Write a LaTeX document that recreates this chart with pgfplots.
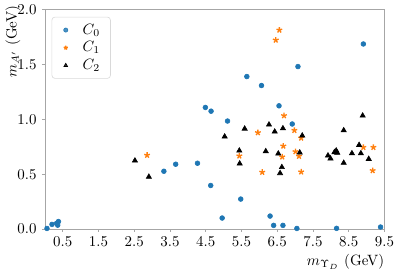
\documentclass[border=0pt]{standalone}
\usepackage{pgfplots}
\pgfplotsset{compat=1.18}
\usetikzlibrary{plotmarks}
\definecolor{mplblue}{HTML}{1F77B4}
\definecolor{mplorange}{HTML}{FF7F0E}
\begin{document}
\begin{tikzpicture}
\begin{axis}[
  name=ax,
  scale only axis,
  width=227.3pt, height=146.7pt,
  xmin=0, xmax=9.5, ymin=0, ymax=2,
  xtick={0.5,1.5,2.5,3.5,4.5,5.5,6.5,7.5,8.5,9.5},
  ytick={0,0.5,1,1.5,2},
  xticklabel style={/pgf/number format/.cd,fixed,fixed zerofill,precision=1},
  yticklabel style={/pgf/number format/.cd,fixed,fixed zerofill,precision=1},
  tick align=outside,
  major tick length=2pt,
  axis line style={gray!70},
  every tick/.style={gray!70},
  xtick pos=bottom, ytick pos=left,
  clip=false,
  xlabel={$m_{\Upsilon_D}$ (GeV)},
  ylabel={$m_{A'}$ (GeV)},
  xlabel style={at={(rel axis cs:1,0)}, anchor=north east, inner sep=0pt, yshift=-16.7pt},
  ylabel style={at={(rel axis cs:0,1)}, anchor=east, inner sep=0pt, yshift=21.3pt, xshift=3pt},
  legend style={at={(0.02,0.968)}, anchor=north west, draw=gray!30, rounded corners=2pt,
    fill=white, fill opacity=0.8, text opacity=1, font=\normalsize,
    inner xsep=5pt, inner ysep=3pt, row sep=0.5pt,
    nodes={inner ysep=1.5pt},
    /tikz/every odd column/.append style={column sep=5pt}},
  legend image code/.code={\path[draw=none,fill=none] (0cm,-0.05cm) rectangle (0.3cm,0.05cm); \draw[#1,mark size=1.4pt] plot coordinates {(0.15cm,0cm)};},
  legend cell align=left,
]
\addplot[only marks, mark=*, mark size=1.6pt, color=mplblue, mark options={draw=mplblue, fill=mplblue}] coordinates {
(0.06,0.005) (0.20,0.042) (0.33,0.052) (0.36,0.035) (0.38,0.068)
(3.33,0.527) (3.66,0.591) (4.27,0.60) (4.64,0.397) (4.49,1.109)
(4.65,1.075) (5.11,0.985) (4.96,0.10) (5.48,0.273) (5.65,1.391)
(6.06,1.309) (6.55,1.124) (6.92,0.958) (7.08,1.482) (8.91,1.688)
(6.30,0.118) (6.40,0.033) (6.66,0.033) (7.05,0.005) (8.16,0.006)
(9.39,0.018)
};
\addlegendentry{$C_0$}
\addplot[only marks, mark=star, mark size=2pt, color=mplorange, mark options={draw=mplorange, line width=0.9pt}] coordinates {
(6.56,1.815) (6.46,1.724) (6.69,1.034) (6.98,0.90) (5.96,0.879)
(7.17,0.83) (5.44,0.667) (6.64,0.658) (6.67,0.757) (7.01,0.706)
(7.11,0.664) (6.08,0.518) (7.17,0.521) (8.91,0.745) (9.19,0.745)
(9.17,0.533) (2.86,0.673)
};
\addlegendentry{$C_1$}
\addplot[only marks, mark=triangle*, mark size=2pt, color=black, mark options={fill=black}] coordinates {
(2.52,0.624) (2.91,0.476) (5.03,0.843) (5.59,0.915) (6.27,0.952)
(6.43,0.888) (6.66,0.918) (7.20,0.852) (5.44,0.715) (5.45,0.597)
(6.18,0.709) (6.53,0.688) (6.63,0.564) (6.58,0.509) (7.13,0.697)
(8.89,1.034) (8.36,0.90) (7.92,0.67) (7.99,0.643) (8.10,0.70)
(8.15,0.715) (8.18,0.695) (8.59,0.69) (8.79,0.766) (8.84,0.69)
(9.06,0.639) (8.36,0.603)
};
\addlegendentry{$C_2$}
\end{axis}
\path ([xshift=-30pt,yshift=-32pt]ax.south west) rectangle ([xshift=8.7pt,yshift=5.3pt]ax.north east);
\end{tikzpicture}
\end{document}
